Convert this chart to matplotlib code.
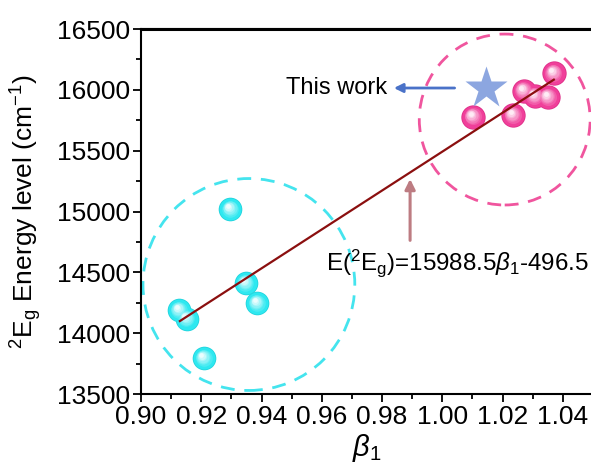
import numpy as np
import matplotlib
matplotlib.use('Agg')
import matplotlib.pyplot as plt
from matplotlib.patches import Ellipse
from matplotlib.transforms import ScaledTranslation
from matplotlib.ticker import MultipleLocator, FormatStrFormatter

plt.rcParams['font.family'] = ['Liberation Sans', 'DejaVu Sans']
plt.rcParams['mathtext.fontset'] = 'custom'
plt.rcParams['mathtext.rm'] = 'Liberation Sans'
plt.rcParams['mathtext.it'] = 'Liberation Sans:italic'

# beta_1 vs 2Eg energy level
beta_ref = [0.9127, 0.9152, 0.9209, 0.9297, 0.9348, 0.9386]
e_ref = [14190, 14117, 13793, 15018, 14410, 14245]

beta_new = [1.0102, 1.0235, 1.0270, 1.0307, 1.0351, 1.0370]
e_new = [15779, 15793, 15993, 15949, 15939, 16136]

beta_this = [1.0144]
e_this = [16012]

# linear fit E = 15988.5*b - 496.5
slope = 15988.5
intercept = -496.5
fit_x = [0.9129, 1.0370]


def glossy(ax, xs, ys, base, edge, size=17):
    # fake sphere: rim, body, then lighter layers nudged up-left
    ax.plot(xs, ys, 'o', ms=size, color=edge, mec='none', zorder=4)
    ax.plot(xs, ys, 'o', ms=size * 0.93, color=base, mec='none', zorder=4)
    n = 6
    for i in range(n):
        f = (i + 1) / n
        col = np.array(matplotlib.colors.to_rgb(base)) * (1 - f * 0.9) + f * 0.9
        off = ScaledTranslation(-0.025 * f, 0.03 * f, ax.figure.dpi_scale_trans)
        ax.plot(xs, ys, 'o', ms=size * (0.8 - 0.6 * f), color=col, mec='none',
                transform=ax.transData + off, zorder=4)


fig = plt.figure(figsize=(5.91, 4.69), dpi=100)
ax = fig.add_axes([141 / 591, 75 / 469, 452 / 591, 365 / 469])

ax.set_xlim(0.90, 1.05)
ax.set_ylim(13500, 16500)

# dashed group circles
ax.add_patch(Ellipse((0.9358, 14400), 0.0703, 1742, fill=False,
                     ec='#44e4ee', lw=2.0, ls=(0, (5, 3.5)), zorder=2))
ax.add_patch(Ellipse((1.0207, 15756), 0.0567, 1405, fill=False,
                     ec='#f0559e', lw=2.0, ls=(0, (5, 3.5)), zorder=2))

fx = np.array(fit_x)
ax.plot(fx, slope * fx + intercept, color='#8b0f0f', lw=1.6, zorder=5)

glossy(ax, beta_ref, e_ref, '#2ee8f0', '#22d4dd')
glossy(ax, beta_new, e_new, '#f03f9a', '#de2f88', size=17.5)
ax.plot(beta_this, e_this, '*', ms=32, color='#8ca6e0', mec='none', zorder=6)

# annotations
ax.annotate('', xy=(0.9830, 16015), xytext=(1.0050, 16015),
            arrowprops=dict(arrowstyle='-|>', color='#4a72c8', lw=2,
                            mutation_scale=13))
ax.text(0.9816, 16015, 'This work', ha='right', va='center', fontsize=17)

ax.annotate('', xy=(0.9893, 15290), xytext=(0.9893, 14740),
            arrowprops=dict(arrowstyle='-|>', color='#bd7c82', lw=2.2,
                            mutation_scale=15))
ax.text(0.9615, 14575, r'E($^{2}$E$_{\mathrm{g}}$)=15988.5$\it{\beta}_{1}$-496.5',
        ha='left', va='center', fontsize=17.4)

ax.set_xlabel(r'$\it{\beta}_{1}$', fontsize=21, labelpad=2)
ax.set_ylabel(r'$^{2}$E$_{\mathrm{g}}$ Energy level (cm$^{-1}$)', fontsize=19)
ax.yaxis.set_label_coords(-0.215, 0.5)

ax.xaxis.set_major_locator(MultipleLocator(0.02))
ax.xaxis.set_minor_locator(MultipleLocator(0.01))
ax.yaxis.set_major_locator(MultipleLocator(500))
ax.yaxis.set_minor_locator(MultipleLocator(250))
ax.xaxis.set_major_formatter(FormatStrFormatter('%.2f'))
ax.tick_params(which='major', length=6, width=1.3, labelsize=19, pad=2)
ax.tick_params(which='minor', length=3.5, width=1.3)
ax.tick_params(axis='both', which='both', top=False, right=False)
for s in ax.spines.values():
    s.set_linewidth(1.5)

# heavier frame line along the top
ax.plot([0, 1], [1, 1], transform=ax.transAxes, color='black', lw=2.2,
        clip_on=False, zorder=10, solid_capstyle='butt')

fig.savefig('out.png', dpi=100)
